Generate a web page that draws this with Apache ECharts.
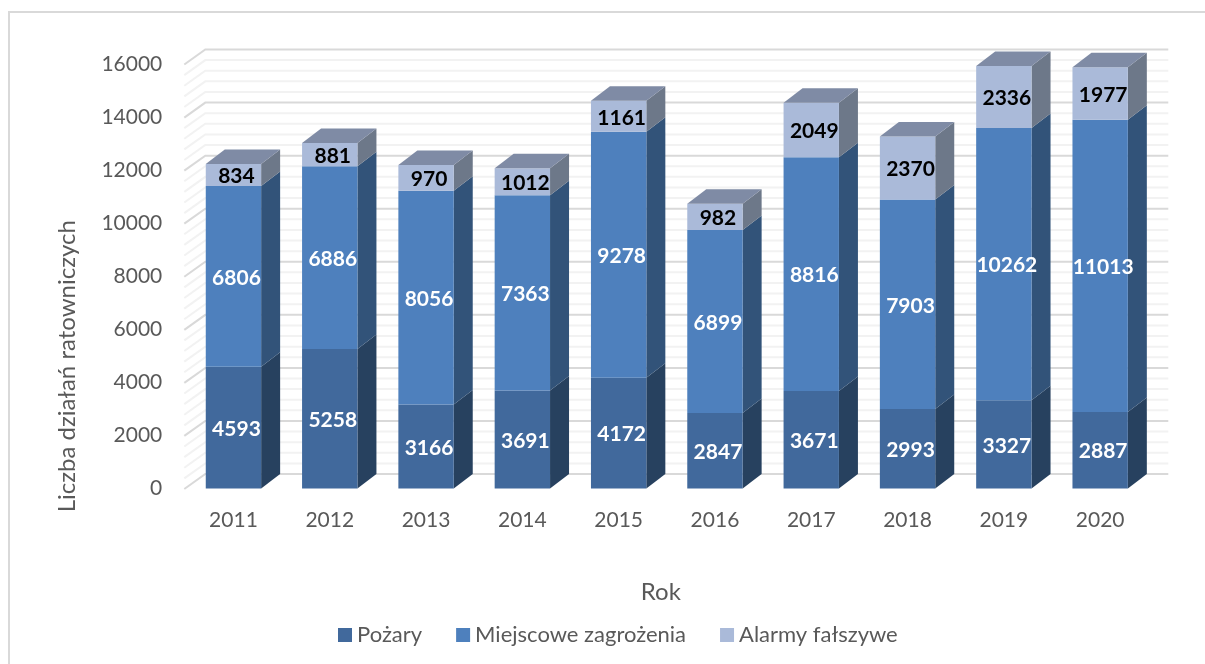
<!DOCTYPE html>
<html lang="pl">
<head>
<meta charset="utf-8">
<style>html,body{margin:0;padding:0;background:#fff}#c{width:1205px;height:664px}</style>
<script src="https://cdn.jsdelivr.net/npm/echarts@6/dist/echarts.min.js"></script>
</head>
<body>
<div id="c"></div>
<script>
const years = ['2011','2012','2013','2014','2015','2016','2017','2018','2019','2020'];
const pozary = [4593,5258,3166,3691,4172,2847,3671,2993,3327,2887];
const miejscowe = [6806,6886,8056,7363,9278,6899,8816,7903,10262,11013];
const alarmy = [834,881,970,1012,1161,982,2049,2370,2336,1977];
const majorTicks = [0,2000,4000,6000,8000,10000,12000,14000,16000];
const minorTicks = [400,800,1200,1600,2400,2800,3200,3600,4400,4800,5200,5600,6400,6800,7200,7600,8400,8800,9200,9600,10400,10800,11200,11600,12400,12800,13200,13600,14400,14800,15200,15600];

const DX = 19, DY = 14.5, BAR = 0.575, LABEL_SHIFT = 3;
const FONT = 'Lato, Carlito, "Open Sans", sans-serif';
const GREY = '#595959';

function wallSeries(name, ticks, color, z) {
  return {
    type: 'custom', name, silent: true, z, data: ticks.map(t => [0, t]),
    encode: {x: 0, y: 1}, clip: false, tooltip: {show: false},
    renderItem(params, api) {
      const cs = params.coordSys;
      const y = api.coord([0, api.value(1)])[1];
      return {type: 'polyline', silent: true, shape: {points: [
        [cs.x - 1, y + 0.5], [cs.x + DX + 1, y - DY], [cs.x + cs.width + DX + 1, y - DY]
      ]}, style: {stroke: color, lineWidth: 2, fill: null}};
    }
  };
}

function barSeries(name, values, bases, colors, labelColor, hasTop) {
  return {
    type: 'custom', name, z: 5, clip: false,
    itemStyle: {color: colors.front},
    data: values.map((v, i) => [i, bases[i], bases[i] + v, v]),
    encode: {x: 0, y: [1, 2]},
    renderItem(params, api) {
      const i = api.value(0);
      const w = api.size([1, 0])[0] * BAR;
      const cx = api.coord([i, 0])[0];
      const y0 = api.coord([i, api.value(1)])[1];
      const y1 = api.coord([i, api.value(2)])[1];
      const xl = cx - w / 2, xr = cx + w / 2;
      const children = [
        {type: 'polygon', shape: {points: [[xr, y0], [xr + DX, y0 - DY], [xr + DX, y1 - DY], [xr, y1]]}, style: {fill: colors.side}},
        {type: 'rect', shape: {x: xl, y: y1, width: w, height: y0 - y1}, style: {fill: colors.front}}
      ];
      if (hasTop) {
        children.push({type: 'polygon', shape: {points: [[xl, y1], [xl + DX, y1 - DY], [xr + DX, y1 - DY], [xr, y1]]}, style: {fill: colors.top}});
      }
      children.push({type: 'text', z2: 10, style: {
        text: String(api.value(3)), x: cx + LABEL_SHIFT, y: (y0 + y1) / 2 + 1.5,
        align: 'center', verticalAlign: 'middle', fill: labelColor,
        font: 'bold 21px ' + FONT
      }});
      return {type: 'group', children};
    }
  };
}

const base2 = pozary.slice();
const base3 = pozary.map((v, i) => v + miejscowe[i]);
const zeros = pozary.map(() => 0);

const chart = echarts.init(document.getElementById('c'), null, {renderer: 'canvas'});
chart.setOption({
  animation: false,
  backgroundColor: '#ffffff',
  textStyle: {fontFamily: FONT},
  grid: {left: 185.3, top: 64, width: 963, height: 424.5},
  xAxis: {
    type: 'category', data: years, boundaryGap: true,
    axisLine: {show: false}, axisTick: {show: false}, splitLine: {show: false},
    axisLabel: {color: GREY, fontSize: 21, margin: 21, fontFamily: FONT},
    name: 'Rok', nameLocation: 'middle', nameGap: 92,
    nameTextStyle: {color: GREY, fontSize: 24, fontFamily: FONT, padding: [0, 12, 0, 0]}
  },
  yAxis: {
    type: 'value', min: 0, max: 16000, interval: 2000,
    axisLine: {show: false}, axisTick: {show: false}, splitLine: {show: false},
    axisLabel: {color: GREY, fontSize: 21, margin: 23, fontFamily: FONT, formatter: v => String(v)},
    name: 'Liczba działań ratowniczych', nameLocation: 'middle', nameGap: 106,
    nameTextStyle: {color: GREY, fontSize: 24, fontFamily: FONT, padding: [0, 180, 0, 0]}
  },
  legend: {
    left: 333, top: 619, itemWidth: 14, itemHeight: 14, itemGap: 34, icon: 'rect',
    data: ['Pożary', 'Miejscowe zagrożenia', 'Alarmy fałszywe'],
    textStyle: {color: GREY, fontSize: 22, fontFamily: FONT}
  },
  graphic: [
    {type: 'line', silent: true, shape: {x1: 8, y1: 12, x2: 1205, y2: 12}, style: {stroke: '#d9d9d9', lineWidth: 2}},
    {type: 'line', silent: true, shape: {x1: 9, y1: 12, x2: 9, y2: 664}, style: {stroke: '#d9d9d9', lineWidth: 2}}
  ],
  series: [
    wallSeries('minor', minorTicks, '#f2f2f2', 1),
    wallSeries('major', majorTicks, '#d9d9d9', 2),
    barSeries('Pożary', pozary, zeros, {front: '#41699c', side: '#27415f', top: '#41699c'}, '#ffffff', false),
    barSeries('Miejscowe zagrożenia', miejscowe, base2, {front: '#4e80bd', side: '#325379', top: '#4e80bd'}, '#ffffff', false),
    barSeries('Alarmy fałszywe', alarmy, base3, {front: '#aabad9', side: '#6d7889', top: '#7f8ba5'}, '#000000', true)
  ]
});
</script>
</body>
</html>
